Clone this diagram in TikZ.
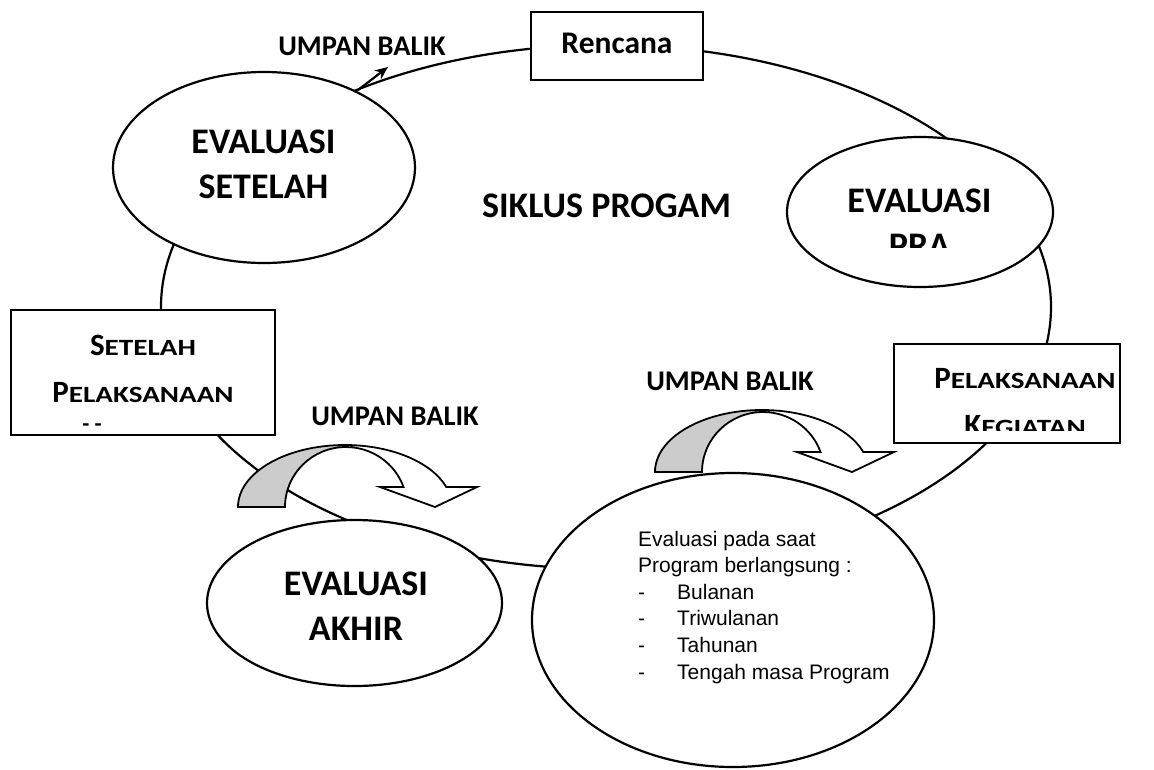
\documentclass[tikz,border=0pt]{standalone}
\usepackage{fontspec}
\usepackage{graphicx}
\setmainfont{Carlito}
\newfontfamily\arialfont{Liberation Sans}
\usetikzlibrary{shapes.geometric,arrows.meta}

\newcommand{\fsz}[1]{\fontsize{#1}{47}\selectfont}
\newcommand{\fakesc}[2]{{\fsz{31}#1}\scalebox{1.25}[1]{\fsz{23.3}#2}}

\tikzset{
  oval/.style={ellipse,draw,fill=white,line width=2.2pt,inner sep=0pt},
  kotak/.style={rectangle,draw,fill=white,line width=1.8pt,inner sep=0pt},
  judul/.style={anchor=base,inner sep=0pt,align=center},
}

\begin{document}
\begin{tikzpicture}[x=1pt,y=-1pt]
\useasboundingbox (0,0) rectangle (1154,769);
% lingkaran siklus
\draw[line width=2.2pt] (606,307) ellipse [x radius=445pt, y radius=262pt];
\coordinate (ekor) at (358,90);
\coordinate (ujung) at (388,67);
\draw[line width=2.2pt,-{Stealth[length=13pt,width=11pt]}] (ekor) -- (ujung);
% panah umpan balik
\foreach \dx/\dy in {0/0,417/-35}{
\begin{scope}[shift={(\dx,\dy)}]
\filldraw[fill=white,line width=1.8pt] (345,445) arc[start angle=90,end angle=18.8,x radius=107pt,y radius=62pt]
  -- (477,487) -- (435,507) -- (380,487) -- (403.5,487)
  arc[start angle=19.5,end angle=90,x radius=61pt,y radius=60pt] -- cycle;
\filldraw[fill=black!20,line width=1.8pt] (238,507) arc[start angle=180,end angle=90,x radius=107pt,y radius=62pt]
  -- (346,447) arc[start angle=90,end angle=180,x radius=61pt,y radius=60pt] -- cycle;
\end{scope}}

\node[kotak,minimum width=172pt,minimum height=68pt] (rencana) at (617,46) {};
\node[judul,font=\bfseries\fsz{31.5}] (rencanatxt) at (617,53) {Rencana};
\node[judul,font=\bfseries\fsz{28.5}] (balik1) at (362,55) {UMPAN BALIK};

\node[oval,minimum width=302pt,minimum height=191pt] (setelah) at (264,167.5) {};
\node[judul,font=\bfseries\fontsize{36}{45}\selectfont] (setelahtxt) at (263.5,198) {EVALUASI\\SETELAH};

\node[judul,font=\bfseries\fontsize{36}{45}\selectfont] (siklus) at (606.5,217) {SIKLUS PROGAM};

\node[oval,minimum width=266pt,minimum height=150pt] (pra) at (920,212) {};
\begin{scope}
\clip (787,100) rectangle (1053,247);
\node[judul,font=\bfseries\fontsize{36}{45}\selectfont] (pratxt) at (919.5,257) {EVALUASI\\PRA};
\end{scope}

\node[kotak,minimum width=264pt,minimum height=125pt] (pasca) at (143,372.5) {};
\node[judul,font=\bfseries\fsz{31}] (pascatxt) at (143,402) {\fakesc{S}{ETELAH}\\\fakesc{P}{ELAKSANAAN}};
\node[judul,font=\bfseries\fsz{23}] (pascasisa) at (92,431) {- -};

\node[kotak,minimum width=226pt,minimum height=99pt] (kegiatan) at (1007,393.5) {};
\begin{scope}
\clip (894,344) rectangle (1154,430);
\node[judul,font=\bfseries\fsz{31}] (kegiatantxt) at (1025,435) {\fakesc{P}{ELAKSANAAN}\\\fakesc{K}{EGIATAN}};
\end{scope}

\node[judul,font=\bfseries\fsz{28.5}] (balik2) at (395,425) {UMPAN BALIK};
\node[judul,font=\bfseries\fsz{28.5}] (balik3) at (730,390) {UMPAN BALIK};

\node[oval,minimum width=295pt,minimum height=166pt] (akhir) at (354.5,603) {};
\node[judul,font=\bfseries\fontsize{36}{45}\selectfont] (akhirtxt) at (356,640) {EVALUASI\\AKHIR};

\node[oval,minimum width=402pt,minimum height=294pt] (berjalan) at (733,620) {};
\node[anchor=base west,inner sep=0pt,align=left,font=\arialfont\fontsize{21}{26.6}\selectfont] (berjalantxt) at (638,679)
  {Evaluasi pada saat\\Program berlangsung :\\\makebox[39pt][l]{-}Bulanan\\\makebox[39pt][l]{-}Triwulanan\\\makebox[39pt][l]{-}Tahunan\\\makebox[39pt][l]{-}Tengah masa Program};
\end{tikzpicture}
\end{document}
